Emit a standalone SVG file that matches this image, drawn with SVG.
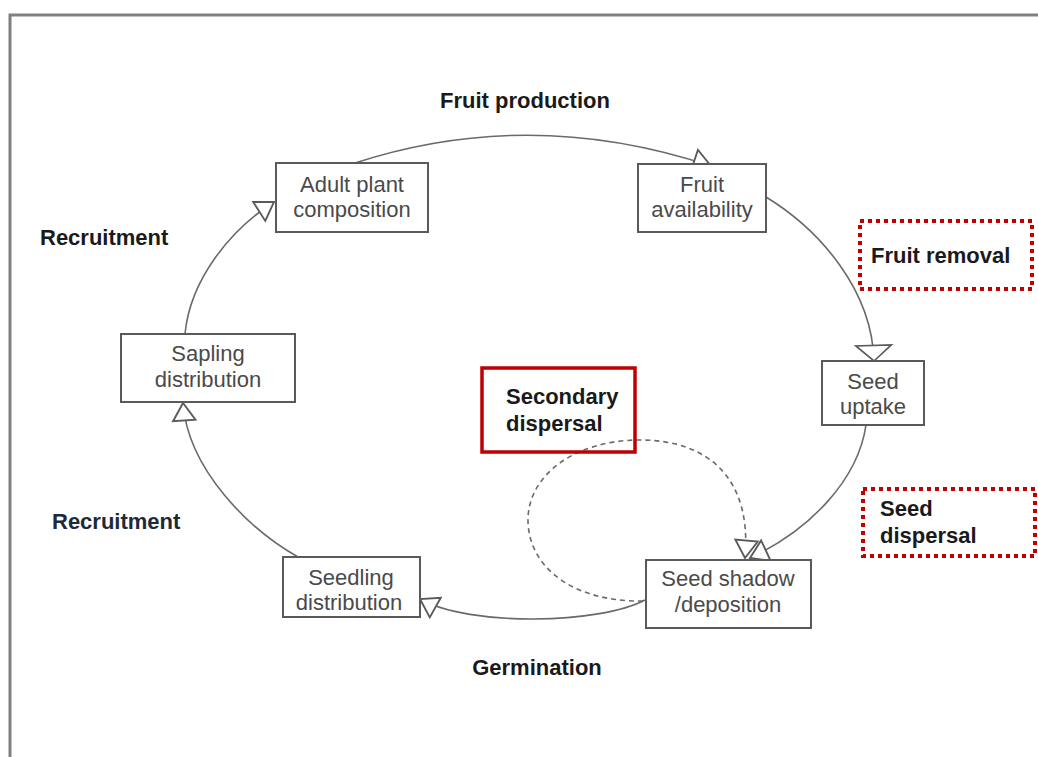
<svg xmlns="http://www.w3.org/2000/svg" width="1038" height="757" viewBox="0 0 1038 757">
<style>
.box{fill:#fff;stroke:#5a5a5a;stroke-width:2}
.bt{font-family:"Liberation Sans",Arial,sans-serif;font-size:22px;fill:#4a4a4a;text-anchor:middle}
.lb{font-family:"Liberation Sans",Arial,sans-serif;font-size:22px;font-weight:bold;fill:#1a1a1a}
.con{fill:none;stroke:#6a6a6a;stroke-width:1.6}
.dash{fill:none;stroke:#6a6a6a;stroke-width:1.6;stroke-dasharray:5 4}
.dot{fill:none;stroke:#c00000;stroke-width:4;stroke-dasharray:4 4}
</style>
<defs>
<marker id="arr" markerUnits="userSpaceOnUse" markerWidth="30" markerHeight="30" viewBox="-16 -12 18 24" refX="0" refY="0" orient="auto">
<path d="M0,0 L-14,-9 L-14,9 Z" fill="#fff" stroke="#5a5a5a" stroke-width="1.5"/>
</marker>
<marker id="arrw" markerUnits="userSpaceOnUse" markerWidth="40" markerHeight="40" viewBox="-16 -18 18 36" refX="0" refY="0" orient="auto">
<path d="M0,0 L-14,-16 L-14,16 Z" fill="#fff" stroke="#5a5a5a" stroke-width="1.5"/>
</marker>
</defs>
<rect width="1038" height="757" fill="#fff"/>
<path d="M10,757 L10,15 L1038,15" fill="none" stroke="#808080" stroke-width="3"/>
<g id="connectors">
<path class="con" d="M355,163 Q530,106 711,166" marker-end="url(#arr)"/>
<path class="con" d="M766,197 C820,230 872,290 874,361" marker-end="url(#arrw)"/>
<path class="con" d="M866,425 C858,480 810,530 750,558" marker-end="url(#arr)"/>
<path class="con" d="M645,600 C600,624 470,627 420,599" marker-end="url(#arr)"/>
<path class="con" d="M298,557 C250,530 188,470 183,403" marker-end="url(#arr)"/>
<path class="con" d="M185,334 C190,280 230,230 274,202" marker-end="url(#arr)"/>
<path class="dash" d="M643,601 C570,602 528,565 528,520 C528,475 575,440 640,440 C710,440 752,480 745,558" marker-end="url(#arr)"/>
</g>
<g id="adult"><rect class="box" x="276" y="163" width="152" height="69"/><text class="bt" x="352" y="192">Adult plant</text><text class="bt" x="352" y="217">composition</text></g>
<g id="fruit"><rect class="box" x="638" y="164" width="128" height="68"/><text class="bt" x="702" y="192">Fruit</text><text class="bt" x="702" y="217">availability</text></g>
<g id="uptake"><rect class="box" x="822" y="361" width="102" height="64"/><text class="bt" x="873" y="389">Seed</text><text class="bt" x="873" y="414">uptake</text></g>
<g id="shadow"><rect class="box" x="646" y="560" width="165" height="68"/><text class="bt" x="728" y="586">Seed shadow</text><text class="bt" x="728" y="612">/deposition</text></g>
<g id="seedling"><rect class="box" x="283" y="557" width="137" height="60"/><text class="bt" x="351" y="585">Seedling</text><text class="bt" x="349" y="610">distribution</text></g>
<g id="sapling"><rect class="box" x="121" y="334" width="174" height="68"/><text class="bt" x="208" y="361">Sapling</text><text class="bt" x="208" y="387">distribution</text></g>
<g id="secondary"><rect x="482" y="368" width="153" height="84" fill="none" stroke="#c00000" stroke-width="3.5"/><text class="lb" x="506" y="404">Secondary</text><text class="lb" x="506" y="431">dispersal</text></g>
<g id="fruitremoval"><rect class="dot" x="860" y="221" width="172" height="68"/><text class="lb" x="871" y="263">Fruit removal</text></g>
<g id="seeddispersal"><rect class="dot" x="863" y="489" width="172" height="67"/><text class="lb" x="880" y="516">Seed</text><text class="lb" x="880" y="543">dispersal</text></g>
<g id="labels">
<text class="lb" x="525" y="108" text-anchor="middle">Fruit production</text>
<text class="lb" x="40" y="245">Recruitment</text>
<text class="lb" x="52" y="529" style="fill:#1e2a38">Recruitment</text>
<text class="lb" x="537" y="675" text-anchor="middle">Germination</text>
</g>
</svg>
